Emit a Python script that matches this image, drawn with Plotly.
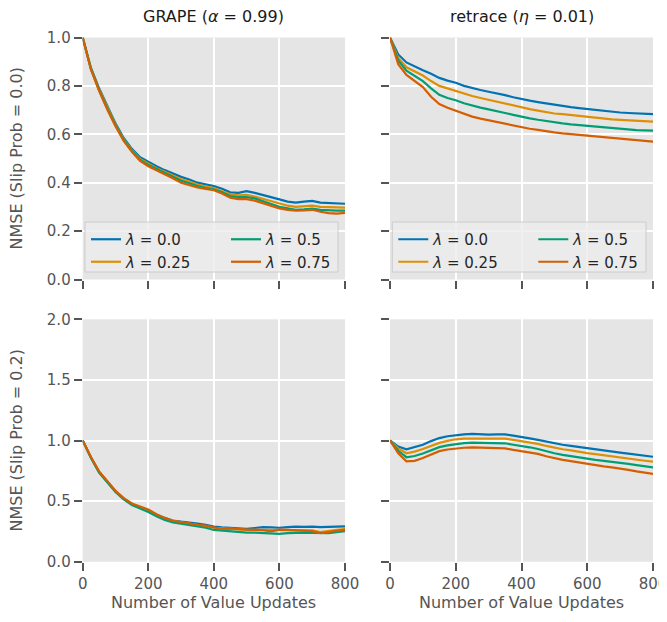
import plotly.graph_objects as go

# page body has an 8px margin; size the figure so it fills the 667x622 window
PAGE_W, PAGE_H = 667, 622
OFF = 8
W, H = PAGE_W - 2 * OFF, PAGE_H - 2 * OFF

x_updates = list(range(0, 801, 25))

lambda_labels = ["0.0", "0.25", "0.5", "0.75"]
colors = ["#0173b2", "#de8f05", "#029e73", "#d55e00"]

# GRAPE, slip prob 0.0
grape_s0_l00 = [1.0, 0.875, 0.79, 0.715, 0.645, 0.585, 0.54, 0.505, 0.485, 0.468, 0.452, 0.437, 0.424, 0.413, 0.40, 0.393, 0.386, 0.375, 0.36, 0.358, 0.365, 0.358, 0.348, 0.34, 0.331, 0.322, 0.318, 0.322, 0.325, 0.318, 0.316, 0.314, 0.313]
grape_s0_l25 = [1.0, 0.872, 0.786, 0.71, 0.64, 0.58, 0.535, 0.498, 0.478, 0.46, 0.445, 0.43, 0.415, 0.405, 0.392, 0.385, 0.378, 0.365, 0.352, 0.348, 0.35, 0.343, 0.333, 0.322, 0.312, 0.305, 0.30, 0.302, 0.305, 0.30, 0.298, 0.297, 0.297]
grape_s0_l50 = [1.0, 0.87, 0.783, 0.706, 0.637, 0.577, 0.532, 0.494, 0.473, 0.456, 0.44, 0.424, 0.408, 0.398, 0.386, 0.378, 0.372, 0.36, 0.345, 0.34, 0.34, 0.335, 0.325, 0.312, 0.30, 0.293, 0.288, 0.29, 0.293, 0.288, 0.285, 0.285, 0.285]
grape_s0_l75 = [1.0, 0.868, 0.78, 0.702, 0.633, 0.573, 0.528, 0.49, 0.468, 0.452, 0.436, 0.418, 0.40, 0.39, 0.38, 0.374, 0.369, 0.355, 0.338, 0.332, 0.332, 0.326, 0.315, 0.303, 0.294, 0.288, 0.285, 0.286, 0.288, 0.28, 0.274, 0.272, 0.275]

# retrace, slip prob 0.0
retrace_s0_l00 = [1.0, 0.93, 0.897, 0.88, 0.865, 0.85, 0.833, 0.822, 0.813, 0.80, 0.79, 0.783, 0.776, 0.77, 0.762, 0.753, 0.745, 0.739, 0.733, 0.727, 0.721, 0.716, 0.712, 0.708, 0.704, 0.70, 0.695, 0.692, 0.69, 0.688, 0.686, 0.684, 0.683]
retrace_s0_l25 = [1.0, 0.915, 0.877, 0.86, 0.843, 0.82, 0.80, 0.79, 0.779, 0.768, 0.758, 0.75, 0.742, 0.735, 0.727, 0.718, 0.71, 0.704, 0.698, 0.691, 0.686, 0.683, 0.679, 0.676, 0.673, 0.669, 0.665, 0.662, 0.66, 0.658, 0.655, 0.653, 0.652]
retrace_s0_l50 = [1.0, 0.905, 0.863, 0.84, 0.82, 0.79, 0.763, 0.75, 0.741, 0.728, 0.718, 0.71, 0.703, 0.697, 0.688, 0.68, 0.672, 0.666, 0.66, 0.654, 0.649, 0.645, 0.641, 0.638, 0.635, 0.631, 0.627, 0.624, 0.622, 0.619, 0.617, 0.616, 0.615]
retrace_s0_l75 = [1.0, 0.89, 0.845, 0.82, 0.795, 0.755, 0.725, 0.71, 0.697, 0.684, 0.673, 0.665, 0.658, 0.652, 0.644, 0.636, 0.628, 0.623, 0.618, 0.612, 0.608, 0.604, 0.601, 0.598, 0.594, 0.59, 0.586, 0.583, 0.58, 0.578, 0.576, 0.572, 0.57]

# GRAPE, slip prob 0.2
grape_s2_l00 = [1.0, 0.86, 0.74, 0.66, 0.58, 0.52, 0.475, 0.445, 0.42, 0.385, 0.36, 0.34, 0.33, 0.325, 0.315, 0.305, 0.29, 0.283, 0.28, 0.275, 0.272, 0.278, 0.285, 0.283, 0.28, 0.285, 0.29, 0.287, 0.29, 0.285, 0.288, 0.29, 0.292]
grape_s2_l25 = [1.0, 0.862, 0.742, 0.662, 0.582, 0.522, 0.478, 0.45, 0.425, 0.39, 0.358, 0.337, 0.325, 0.318, 0.305, 0.295, 0.28, 0.275, 0.27, 0.266, 0.262, 0.263, 0.262, 0.26, 0.258, 0.26, 0.262, 0.26, 0.258, 0.245, 0.255, 0.262, 0.268]
grape_s2_l50 = [1.0, 0.858, 0.736, 0.655, 0.575, 0.515, 0.468, 0.438, 0.41, 0.375, 0.345, 0.325, 0.315, 0.305, 0.295, 0.28, 0.262, 0.255, 0.248, 0.244, 0.24, 0.24, 0.238, 0.235, 0.23, 0.235, 0.24, 0.24, 0.238, 0.235, 0.235, 0.243, 0.252]
grape_s2_l75 = [1.0, 0.864, 0.745, 0.665, 0.585, 0.525, 0.48, 0.455, 0.43, 0.392, 0.36, 0.338, 0.325, 0.318, 0.305, 0.298, 0.285, 0.27, 0.275, 0.268, 0.265, 0.262, 0.26, 0.25, 0.265, 0.262, 0.26, 0.256, 0.252, 0.235, 0.245, 0.255, 0.265]

# retrace, slip prob 0.2
retrace_s2_l00 = [1.0, 0.95, 0.928, 0.945, 0.965, 0.995, 1.02, 1.035, 1.045, 1.05, 1.054, 1.05, 1.048, 1.05, 1.05, 1.04, 1.032, 1.018, 1.005, 0.99, 0.975, 0.965, 0.955, 0.945, 0.937, 0.928, 0.92, 0.91, 0.90, 0.892, 0.882, 0.873, 0.866]
retrace_s2_l25 = [1.0, 0.935, 0.895, 0.908, 0.93, 0.955, 0.98, 0.997, 1.01, 1.015, 1.018, 1.016, 1.015, 1.016, 1.015, 1.005, 0.996, 0.985, 0.972, 0.955, 0.94, 0.928, 0.918, 0.905, 0.896, 0.888, 0.878, 0.87, 0.861, 0.852, 0.843, 0.833, 0.825]
retrace_s2_l50 = [1.0, 0.915, 0.862, 0.872, 0.893, 0.92, 0.945, 0.96, 0.97, 0.978, 0.982, 0.98, 0.977, 0.978, 0.977, 0.965, 0.956, 0.944, 0.93, 0.91, 0.895, 0.882, 0.87, 0.858, 0.849, 0.84, 0.832, 0.825, 0.817, 0.807, 0.797, 0.788, 0.779]
retrace_s2_l75 = [1.0, 0.895, 0.828, 0.832, 0.855, 0.885, 0.912, 0.926, 0.935, 0.94, 0.944, 0.942, 0.941, 0.94, 0.935, 0.922, 0.913, 0.903, 0.89, 0.87, 0.853, 0.84, 0.83, 0.818, 0.808, 0.798, 0.787, 0.778, 0.77, 0.758, 0.745, 0.734, 0.724]

panels = [
    [grape_s0_l00, grape_s0_l25, grape_s0_l50, grape_s0_l75],
    [retrace_s0_l00, retrace_s0_l25, retrace_s0_l50, retrace_s0_l75],
    [grape_s2_l00, grape_s2_l25, grape_s2_l50, grape_s2_l75],
    [retrace_s2_l00, retrace_s2_l25, retrace_s2_l50, retrace_s2_l75],
]

col_titles = ["GRAPE (<i>α</i> = 0.99)", "retrace (<i>η</i> = 0.01)"]
row_titles = ["NMSE (Slip Prob = 0.0)", "NMSE (Slip Prob = 0.2)"]
x_title = "Number of Value Updates"
x_ticks = [0, 200, 400, 600, 800]


def px_x(p):
    return (p - OFF) / W


def px_y(p):
    return 1 - (p - OFF) / H


# plot area pixel boxes (page coordinates)
cols_px = [(82.7, 345.0), (390.0, 653.0)]
rows_px = [(37.5, 279.5), (319.3, 561.7)]

FONT = "DejaVu Sans"
TICKC = "#555555"
BG = "#e5e5e5"
TICKSIZE = 15

fig = go.Figure()

axis_ids = ["", "2", "3", "4"]
legend_names = [["legend", "legend2"], ["legend3", "legend4"]]

for pi, series in enumerate(panels):
    r, c = divmod(pi, 2)
    aid = axis_ids[pi]
    for si, ys in enumerate(series):
        kw = {}
        if r == 0:
            kw["legend"] = legend_names[c][si // 2]
            kw["showlegend"] = True
        else:
            kw["showlegend"] = False
        fig.add_trace(go.Scatter(
            x=x_updates, y=ys, mode="lines",
            line=dict(color=colors[si], width=2.2),
            name="<i>λ</i> = " + lambda_labels[si],
            xaxis="x" + aid, yaxis="y" + aid,
            **kw,
        ))

layout = dict(
    width=W, height=H,
    margin=dict(l=0, r=0, t=0, b=0, pad=0, autoexpand=False),
    paper_bgcolor="white",
    plot_bgcolor=BG,
    font=dict(family=FONT, size=TICKSIZE, color=TICKC),
)

for pi in range(4):
    r, c = divmod(pi, 2)
    aid = axis_ids[pi]
    x0, x1 = cols_px[c]
    y0, y1 = rows_px[r]
    layout["xaxis" + aid] = dict(
        domain=[px_x(x0), px_x(x1)], anchor="y" + aid,
        range=[0, 800], tickvals=x_ticks, showticklabels=(r == 1),
        ticks="outside", ticklen=8, tickwidth=1.5, tickcolor=TICKC,
        showgrid=True, gridcolor="white", gridwidth=1.5,
        zeroline=False, showline=False, automargin=False,
        ticklabeloverflow="allow",
        tickfont=dict(family=FONT, size=TICKSIZE, color=TICKC),
    )
    yr = [0, 1] if r == 0 else [0, 2]
    dt = 0.2 if r == 0 else 0.5
    layout["yaxis" + aid] = dict(
        domain=[px_y(y1), px_y(y0)], anchor="x" + aid,
        range=yr, dtick=dt, tick0=0, tickformat=".1f", showticklabels=(c == 0),
        ticks="outside", ticklen=8, tickwidth=1.5, tickcolor=TICKC,
        showgrid=True, gridcolor="white", gridwidth=1.5,
        zeroline=False, showline=False, automargin=False,
        ticklabeloverflow="allow",
        tickfont=dict(family=FONT, size=TICKSIZE, color=TICKC),
    )

# legends: two columns per top panel
leg_box = [(85.0, 338.0), (392.3, 646.0)]
leg_top = 222.0
leg_bottom = 272.0
for c in range(2):
    bx0, bx1 = leg_box[c]
    for k in range(2):
        name = legend_names[c][k]
        layout[name] = dict(
            x=px_x(bx0 + 1 + k * 140), y=px_y(leg_top + 1),
            xref="paper", yref="paper", xanchor="left", yanchor="top",
            bgcolor="rgba(0,0,0,0)", borderwidth=0,
            font=dict(family=FONT, size=15, color="#262626"),
            tracegroupgap=0, itemwidth=30,
        )

shapes = []
for c in range(2):
    bx0, bx1 = leg_box[c]
    shapes.append(dict(
        type="rect", xref="paper", yref="paper", layer="above",
        x0=px_x(bx0), x1=px_x(bx1), y0=px_y(leg_bottom), y1=px_y(leg_top),
        fillcolor="rgba(236,236,236,0.8)", line=dict(color="#cccccc", width=1),
    ))
layout["shapes"] = shapes

annotations = []
for c in range(2):
    x0, x1 = cols_px[c]
    xc = (x0 + x1) / 2
    annotations.append(dict(
        text=col_titles[c], x=px_x(xc), y=px_y(16), xref="paper", yref="paper",
        showarrow=False, xanchor="center", yanchor="middle",
        font=dict(family=FONT, size=16, color="#1a1a1a"),
    ))
    annotations.append(dict(
        text=x_title, x=px_x(xc), y=px_y(613.5), xref="paper", yref="paper",
        showarrow=False, xanchor="center", yanchor="bottom",
        font=dict(family=FONT, size=16, color=TICKC),
    ))
for r in range(2):
    y0, y1 = rows_px[r]
    annotations.append(dict(
        text=row_titles[r], x=px_x(16), y=px_y((y0 + y1) / 2), xref="paper", yref="paper",
        showarrow=False, xanchor="center", yanchor="middle", textangle=-90,
        font=dict(family=FONT, size=16, color=TICKC),
    ))
layout["annotations"] = annotations

fig.update_layout(**layout)
fig.write_html("out.html")
